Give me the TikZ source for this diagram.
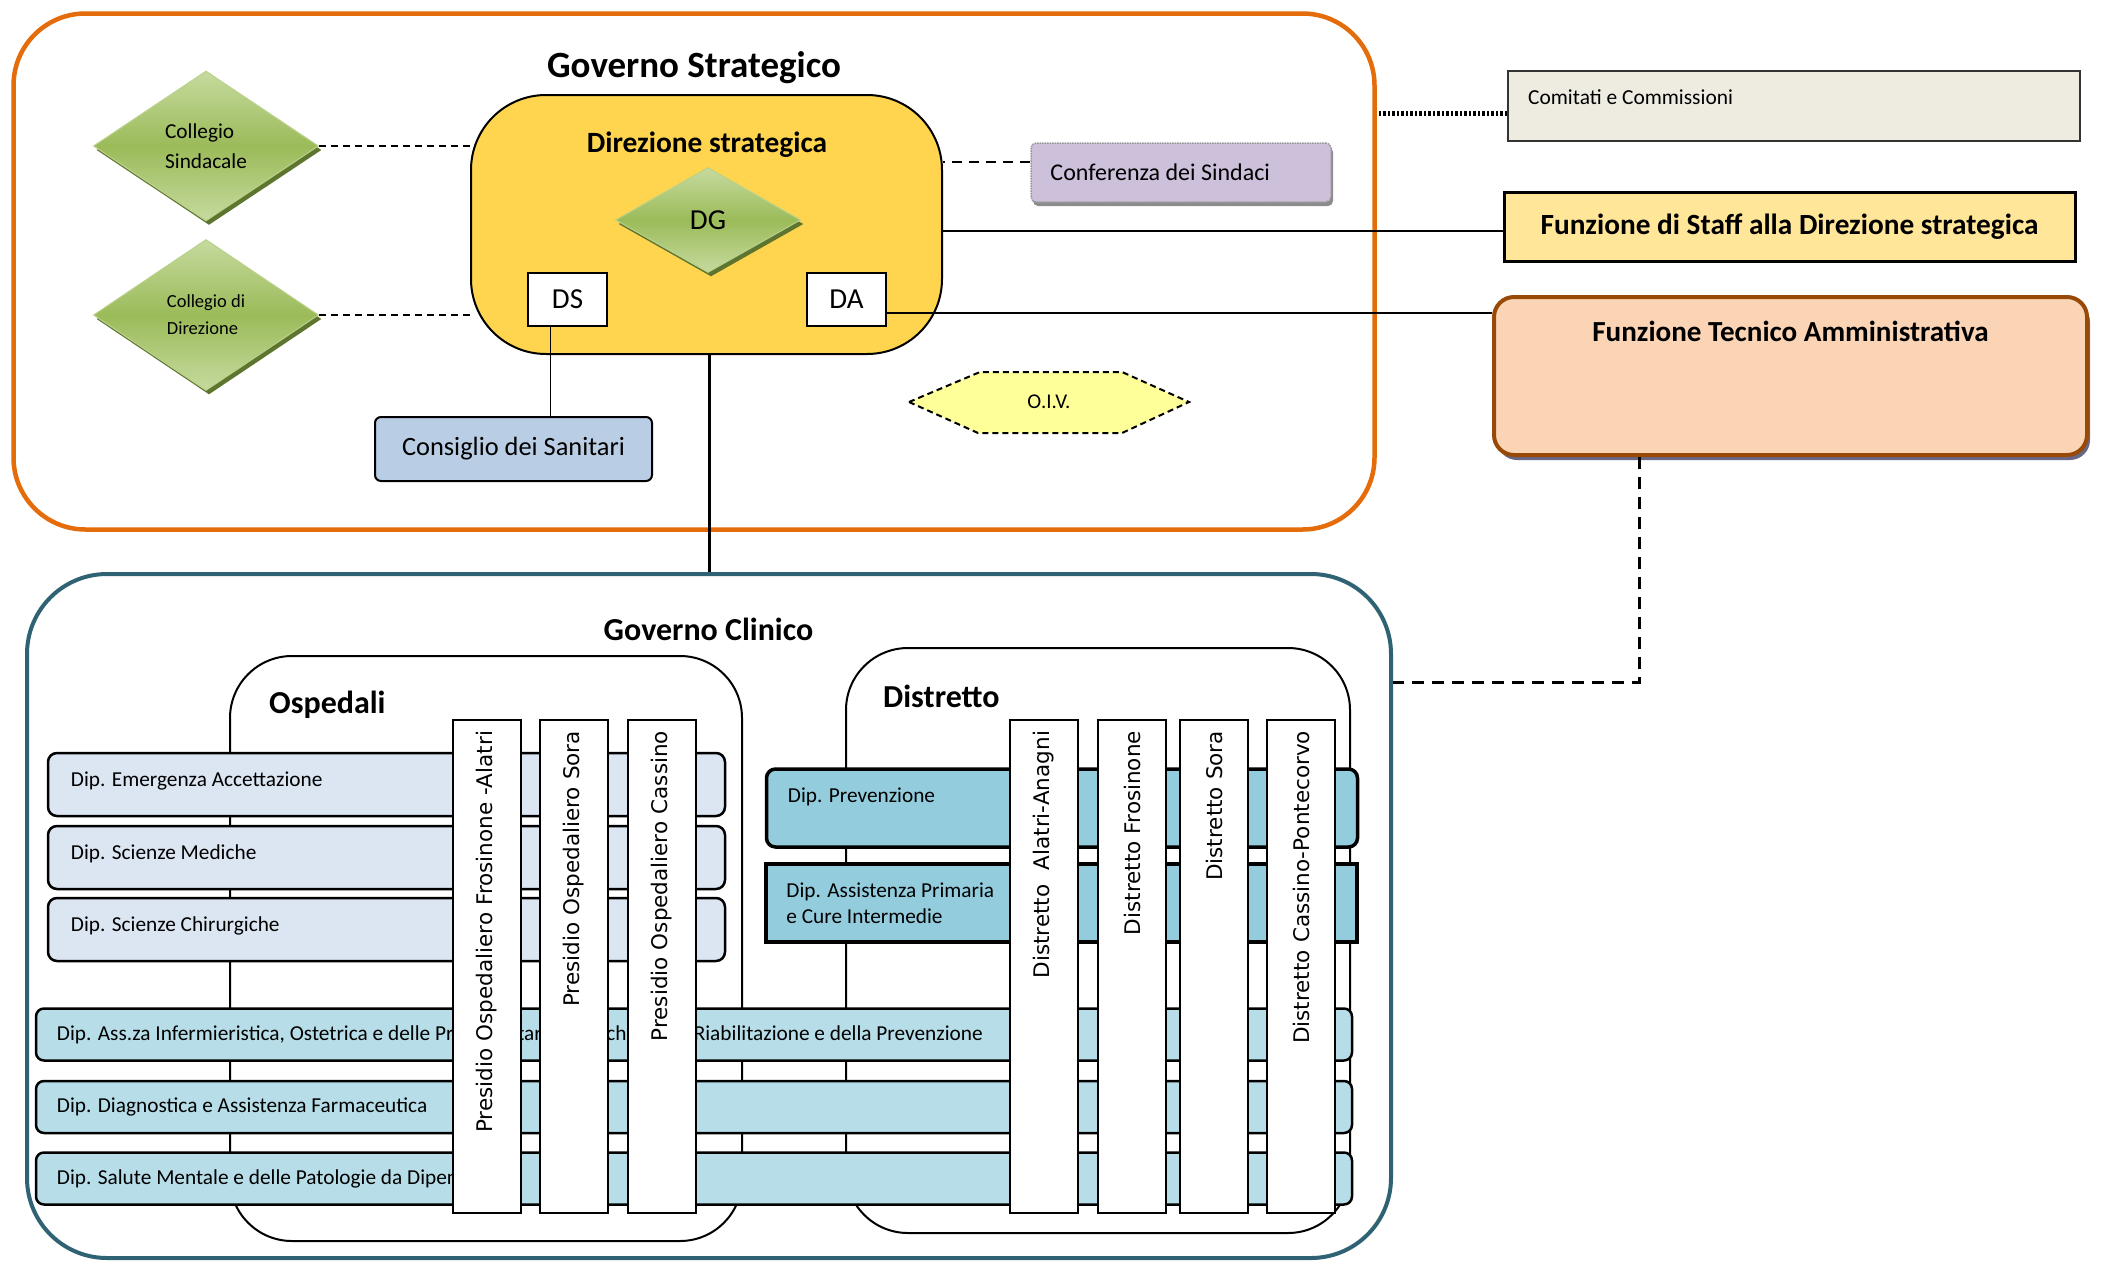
\documentclass[tikz,border=0pt]{standalone}
\usepackage{fontspec}
\setmainfont{Carlito}
\newfontfamily\vertfont{DejaVu Sans}
\usetikzlibrary{shapes.geometric, shadows, positioning, calc}

\definecolor{stratorange}{HTML}{E46C0A}
\definecolor{clinteal}{HTML}{2F6272}
\definecolor{dirgold}{HTML}{FFD550}
\definecolor{staffyellow}{HTML}{FFE699}
\definecolor{ftapeach}{HTML}{FAD4B4}
\definecolor{ftabrown}{HTML}{984807}
\definecolor{confpurple}{HTML}{CCC0DA}
\definecolor{consblue}{HTML}{B9CDE5}
\definecolor{comgray}{HTML}{EEECE1}
\definecolor{oivyellow}{HTML}{FFFF99}
\definecolor{ospblue}{HTML}{DCE6F2}
\definecolor{distblue}{HTML}{93CDDD}
\definecolor{rowblue}{HTML}{B7DEE8}
\definecolor{greenmid}{HTML}{9BBB59}
\definecolor{greenlight}{HTML}{C6DA9E}
\definecolor{greendark}{HTML}{5E7530}

\newcommand{\fsz}[2]{\fontsize{#1}{#2}\selectfont}

\tikzset{
  govframe/.style={draw=#1, line width=4.5},
  innerframe/.style={draw, line width=2, rounded corners=62},
  headtext/.style={font=\bfseries\fsz{32}{38}},
  rowtext/.style={anchor=west, align=left, font=\fsz{21.3}{26}},
  osprow/.style={draw, line width=2.5, fill=ospblue, rounded corners=9, minimum width=677, minimum height=63},
  distrow/.style={draw, line width=3.5, fill=distblue, minimum width=591, minimum height=78},
  longrow/.style={draw, line width=2.5, fill=rowblue, rounded corners=8, minimum width=1316, minimum height=52},
  unitcol/.style={draw, line width=2, fill=white, rotate=90, minimum width=493, minimum height=68,
    inner xsep=11, text width=471, align=right, font=\vertfont\fsz{21.5}{26}},
  smallbox/.style={draw, line width=2, fill=white, minimum width=79, minimum height=53, font=\fsz{29}{34}},
  greendiamond/.style={diamond, draw=greenlight!70!greenmid, line width=1,
    top color=greenlight, bottom color=greenlight, middle color=greenmid,
    drop shadow={shadow xshift=3, shadow yshift=4, fill=greendark, opacity=1}},
  sidebox/.style={draw, line width=2.5, minimum width=571, minimum height=69},
  conn/.style={line width=2.5},
  dashconn/.style={line width=2, dash pattern=on 7 off 5},
}

\begin{document}
\begin{tikzpicture}[x=1pt, y=-1pt, every node/.append style={inner sep=0pt}]
\useasboundingbox (0,0) rectangle (2102,1264);

% frames
\node[govframe=stratorange, rounded corners=72, minimum width=1361, minimum height=516] (strat) at (694,271.5) {};
\node[govframe=clinteal, line width=4, rounded corners=80, minimum width=1364, minimum height=684] (clin) at (709,916) {};
\node[innerframe, minimum width=512, minimum height=585] (osp) at (486,948.5) {};
\node[innerframe, minimum width=504, minimum height=585] (dis) at (1098,940.5) {};

\node[headtext, font=\bfseries\fsz{37}{44}] (strattitle) at (694,68) {Governo Strategico};
\node[headtext] (clintitle) at (708.5,629) {Governo Clinico};
\node[headtext, anchor=west] (osptitle) at (269,705) {Ospedali};
\node[headtext, anchor=west] (distitle) at (883,696) {Distretto};

% dipartimenti
\node[osprow] (emerg) at (386.5,784.5) {};
\node[osprow] (medic) at (386.5,857.5) {};
\node[osprow] (chir) at (386.5,929.5) {};
\node[rowtext] (emergtx) at ([xshift=24, yshift=4]emerg.west) {Dip. Emergenza Accettazione};
\node[rowtext] (medictx) at ([xshift=24, yshift=4]medic.west) {Dip. Scienze Mediche};
\node[rowtext] (chirtx) at ([xshift=24, yshift=4]chir.west) {Dip. Scienze Chirurgiche};

\node[distrow, rounded corners=9] (prev) at (1062,808) {};
\node[distrow] (assist) at (1061.5,903) {};
\node[rowtext] (prevtx) at ([xshift=23, yshift=11]prev.west) {Dip. Prevenzione};
\node[rowtext] (assisttx) at ([xshift=22]assist.west) {Dip. Assistenza Primaria\\e Cure Intermedie};

\node[longrow] (infer) at (694,1034.5) {};
\node[longrow] (diagn) at (694,1107) {};
\node[longrow] (mental) at (694,1178.5) {};
\node[rowtext] (infertx) at ([xshift=22]infer.west) {Dip. Ass.za Infermieristica, Ostetrica e delle Prof. Sanitarie Tecniche, della Riabilitazione e della Prevenzione};
\node[rowtext] (diagntx) at ([xshift=22]diagn.west) {Dip. Diagnostica e Assistenza Farmaceutica};
\node[rowtext] (mentaltx) at ([xshift=22]mental.west) {Dip. Salute Mentale e delle Patologie da Dipendenza};

% presidi e distretti
\node[unitcol] (pres1) at (486.5,966.5) {Presidio Ospedaliero Frosinone -Alatri};
\node[unitcol] (pres2) at (574,966.5) {Presidio Ospedaliero Sora};
\node[unitcol] (pres3) at (662,966.5) {Presidio Ospedaliero Cassino};
\node[unitcol] (dist1) at (1044,966.5) {Distretto\ \ Alatri-Anagni};
\node[unitcol] (dist2) at (1132,966.5) {Distretto Frosinone};
\node[unitcol] (dist3) at (1214,966.5) {Distretto Sora};
\node[unitcol] (dist4) at (1301,966.5) {Distretto Cassino-Pontecorvo};

% governo strategico
\node[draw, line width=2, fill=dirgold, rounded corners=75, minimum width=471, minimum height=259] (dir) at (706.5,224.5) {};
\node[font=\bfseries\fsz{29.4}{34}] (dirtitle) at (707,145) {Direzione strategica};
\node[greendiamond, minimum width=185, minimum height=105, font=\fsz{29}{34}] (dg) at (708,220) {DG};
\node[smallbox] (ds) at (567.5,299.5) {DS};
\node[smallbox] (da) at (846.5,299.5) {DA};

\node[greendiamond, minimum width=225, minimum height=150, align=left, font=\fsz{21.3}{30}] (colls) at (206,146) {Collegio\\Sindacale};
\node[greendiamond, minimum width=225, minimum height=151, align=left, font=\fsz{18.5}{27}] (colld) at (206,315) {Collegio di\\Direzione};

\node[draw, line width=2, fill=consblue, rounded corners=6, minimum width=277, minimum height=64, font=\fsz{26.4}{32}] (cons) at (513.5,449) {Consiglio dei Sanitari};

\node[draw=black!40, densely dotted, line width=1.5, fill=confpurple, rounded corners=5, minimum width=300, minimum height=59,
  drop shadow={shadow xshift=2, shadow yshift=4, fill=black!45, opacity=1}] (conf) at (1181,172.5) {};
\node[anchor=west, font=\fsz{24}{30}] (conftx) at ([xshift=20]conf.west) {Conferenza dei Sindaci};

\draw[line width=2, dash pattern=on 6 off 4, fill=oivyellow] (909,402) -- (980,372) -- (1122,372) -- (1189,402) -- (1122,433) -- (978,433) -- cycle;
\node[font=\fsz{21}{26}] (oiv) at (1049,402) {O.I.V.};

% funzioni esterne
\node[sidebox, draw=black!80, line width=2, fill=comgray, minimum width=572, minimum height=70] (com) at (1794,106) {};
\node[anchor=west, font=\fsz{21.4}{26}] (comtx) at ([xshift=21, yshift=9]com.west) {Comitati e Commissioni};
\node[sidebox, line width=3, fill=staffyellow, font=\bfseries\fsz{29.3}{34}] (staff) at (1789.5,226.5) {Funzione di Staff alla Direzione strategica};
\node[draw=ftabrown, line width=4, fill=ftapeach, rounded corners=20, minimum width=593, minimum height=158,
  drop shadow={shadow xshift=3, shadow yshift=5, fill=black!35!blue!20!gray, opacity=1}] (fta) at (1790.5,376) {};
\node[font=\bfseries\fsz{29.1}{34}] (ftatx) at ([yshift=-36]fta.north) {Funzione Tecnico Amministrativa};

% collegamenti
\draw[dashconn] (colls.east) -- (colls.east -| dir.west);
\draw[dashconn] (colld.east) -- (colld.east -| dir.west);
\draw[line width=2, dash pattern=on 10 off 7] ([yshift=11]conf.west) -- ([yshift=11]conf.west -| dir.east);
\draw[conn] ([yshift=-4.5]staff.west) -- ([yshift=-4.5]staff.west -| dir.east);
\draw[conn] ([yshift=-13.5]da.east) -- ([yshift=-13.5]da.east -| fta.west);
\draw[conn] ([xshift=3]dir.south) -- ([xshift=3]dir.south |- clin.north);
\draw[line width=1.5] ([xshift=-17]ds.south) -- ([xshift=-17]ds.south |- cons.north);
\draw[line width=5, dash pattern=on 2.5 off 2] ([yshift=-7]com.west) -- ([yshift=-7]com.west -| strat.east);
\coordinate (ftabend) at (1639,682);
\draw[line width=3, dash pattern=on 12 off 8] (fta.south -| ftabend) -- (ftabend) -- (ftabend -| clin.east);
\end{tikzpicture}
\end{document}
